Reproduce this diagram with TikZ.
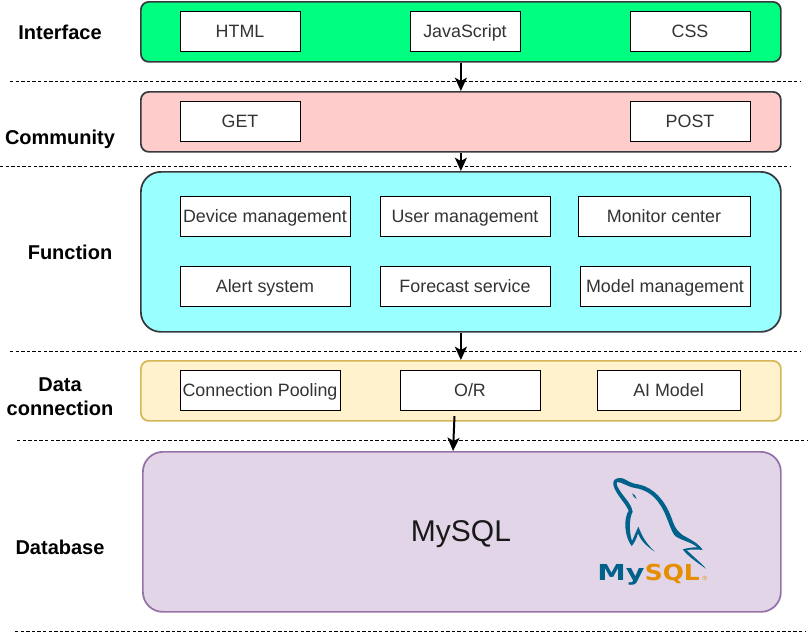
\documentclass[tikz,border=0pt]{standalone}
\usepackage{fontspec}
\setmainfont{Liberation Sans}
\newfontfamily\logofont[FakeStretch=1.13]{DejaVu Sans}
\newfontfamily\logowidefont[FakeStretch=1.3]{DejaVu Sans}
\usetikzlibrary{calc,positioning,arrows.meta}
\definecolor{interfacegreen}{HTML}{00FF80}
\definecolor{communityred}{HTML}{FFCCCC}
\definecolor{functioncyan}{HTML}{99FFFF}
\definecolor{connectionfill}{HTML}{FFF2CC}
\definecolor{connectionedge}{HTML}{D6B656}
\definecolor{databasefill}{HTML}{E1D5E7}
\definecolor{databaseedge}{HTML}{9673A6}
\definecolor{layeredge}{HTML}{36393D}
\definecolor{labelgray}{HTML}{333333}
\definecolor{dolphinblue}{HTML}{00618A}
\definecolor{sqlorange}{HTML}{E48E00}
\tikzset{
   layer/.style={rectangle, draw=layeredge, line width=1.3pt, rounded corners=6pt, minimum width=480pt, anchor=north west},
   item/.style={rectangle, draw=black, line width=0.75pt, fill=white, text=labelgray, minimum height=30pt, inner sep=0pt, text height=11.7pt, text depth=2.5pt, font=\fontsize{13.4}{15}\selectfont},
   side label/.style={font=\fontsize{15}{18}\selectfont\bfseries, align=center},
   separator/.style={line width=0.6pt, dash pattern=on 2.6pt off 1.6pt},
   flow/.style={-{Stealth[length=10pt,width=9pt,inset=2.5pt]}, line width=1.5pt},
   >=latex
}
\begin{document}
\begin{tikzpicture}[x=0.75pt,y=-0.75pt]
  \useasboundingbox (0,0) rectangle (809,633);

  %%%%%%%%%%% layers
  \node[layer, fill=interfacegreen, minimum height=45pt] at (140,1) (interface) {};
  \node[layer, fill=communityred, minimum height=45pt] at (140,91) (community) {};
  \node[layer, fill=functioncyan, minimum height=120pt, rounded corners=15pt] at (140,171) (function) {};
  \node[layer, fill=connectionfill, draw=connectionedge, minimum height=45pt] at (140,360) (connection) {};
  \node[layer, fill=databasefill, draw=databaseedge, minimum width=478.5pt, minimum height=120pt, rounded corners=15pt] at (142,451) (database) {};

  %%%%%%%%%%% boxes
  \node[item, minimum width=90pt] at (240,31) (html) {HTML};
  \node[item, minimum width=82.5pt] at (465,31) (javascript) {JavaScript};
  \node[item, minimum width=90pt] at (690,31) (css) {CSS};

  \node[item, minimum width=90pt] at (240,121) (get) {GET};
  \node[item, minimum width=90pt] at (690,121) (post) {POST};

  \node[item, minimum width=127.5pt] at (265,216) (device) {Device management};
  \node[item, minimum width=127.5pt] at (465,216) (user) {User management};
  \node[item, minimum width=129pt] at (664,216) (monitor) {Monitor center};
  \node[item, minimum width=127.5pt] at (265,286) (alert) {Alert system};
  \node[item, minimum width=127.5pt] at (465,286) (forecast) {Forecast service};
  \node[item, minimum width=127.5pt] at (665,286) (model) {Model management};

  \node[item, minimum width=120pt] at (260,390) (pooling) {Connection Pooling};
  \node[item, minimum width=105pt] at (470,390) (orm) {O/R};
  \node[item, minimum width=107.25pt] at (668.5,390) (aimodel) {AI Model};

  \node[font=\fontsize{22.5}{27}\selectfont, text=black!90] at (461,534) (mysql) {MySQL};

  %%%%%%%%%%% labels on the left
  \node[side label] at (60,32) (interface label) {Interface};
  \node[side label] at (60,139) (community label) {Community};
  \node[side label] at (70,252) (function label) {Function};
  \node[side label] at (60,397) (connection label) {Data\\connection};
  \node[side label] at (60,547) (database label) {Database};

  %%%%%%%%%%% dashed lines
  \foreach \xa/\xb/\yy in {10/800/81, 0/790/166, 10/800/351, 17/807/440, 15/805/631}
    \draw[separator] (\xa,\yy) -- (\xb,\yy);

  %%%%%%%%%%% arrows
  \coordinate (connection out) at (454.5,416);
  \coordinate (database in) at (453,451);
  \draw[flow] (interface.south) -- (community.north);
  \draw[flow] (community.south) -- (function.north);
  \draw[flow] (function.south) -- (connection.north);
  \draw[flow] (connection out) -- (database in);

  %%%%%%%%%%% logo
  \begin{scope}[shift={(570,460)},x=0.25pt,y=-0.25pt]
    \fill[dolphinblue] (130,66) .. controls (132,56) and (145,52) .. (158,55)
      .. controls (175,62) and (180,70) .. (205,73)
      .. controls (250,82) and (285,120) .. (305,175)
      .. controls (315,205) and (325,220) .. (350,232)
      .. controls (370,243) and (390,255) .. (398,270)
      .. controls (385,268) and (365,268) .. (350,270)
      .. controls (370,290) and (395,310) .. (408,326)
      .. controls (385,310) and (355,290) .. (338,268)
      .. controls (360,262) and (372,262) .. (382,262)
      .. controls (365,245) and (325,240) .. (312,224)
      .. controls (295,195) and (290,160) .. (266,128)
      .. controls (250,105) and (225,88) .. (195,84)
      .. controls (170,79) and (155,66) .. (142,66)
      .. controls (135,70) and (145,85) .. (155,100)
      .. controls (170,120) and (185,135) .. (188,155)
      .. controls (177,175) and (177,215) .. (186,243)
      .. controls (192,230) and (198,215) .. (205,200)
      .. controls (212,215) and (218,240) .. (254,275)
      .. controls (225,255) and (212,240) .. (204,220)
      .. controls (198,240) and (192,250) .. (185,258)
      .. controls (163,230) and (160,175) .. (176,152)
      .. controls (168,130) and (125,90) .. (130,66) -- cycle;
    \fill[dolphinblue] (186,100) .. controls (192,102) and (198,108) .. (200,117) .. controls (194,114) and (188,108) .. (186,100) -- cycle;
    \node[font=\logowidefont\fontsize{16.5}{18}\selectfont\bfseries, text=dolphinblue, anchor=base east, inner sep=0pt] at (224,362) (logo my) {My};
    \node[font=\logofont\fontsize{16.5}{18}\selectfont\bfseries, text=sqlorange, anchor=base west, inner sep=0pt] at (224,362) (logo sql) {SQL};
    \node[font=\fontsize{4.5}{5}\selectfont, text=sqlorange, anchor=base west, inner sep=0pt] at (397,362) (logo mark) {®};
  \end{scope}
\end{tikzpicture}
\end{document}
